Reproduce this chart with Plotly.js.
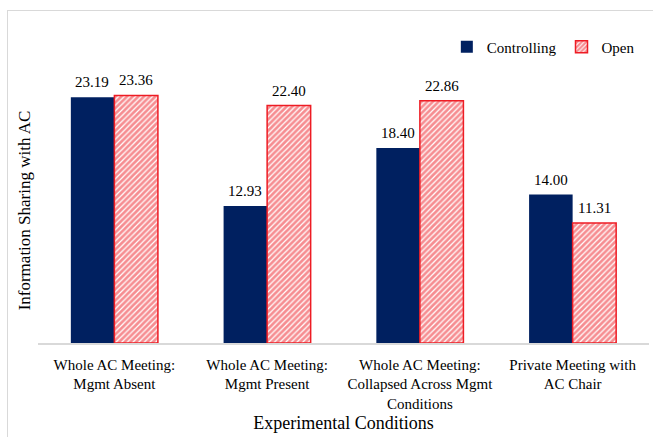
<!DOCTYPE html>
<html>
<head>
<meta charset="utf-8">
<script src="https://cdn.plot.ly/plotly-3.0.1.min.js"></script>
<style>
  html, body { margin: 0; padding: 0; background: #fff; }
  #wrap { position: relative; width: 653px; height: 437px; overflow: hidden; }
  #chart { position: absolute; left: 0; top: 0; width: 653px; height: 437px; }
  #frame { position: absolute; left: 7px; top: 10px; width: 700px; height: 500px;
           border-left: 1.5px solid #d9d9d9; border-top: 1.5px solid #d9d9d9; pointer-events: none; }
</style>
</head>
<body>
<div id="wrap">
  <div id="chart"></div>
  <div id="frame"></div>
</div>
<script>
const categories = [
  "Whole AC Meeting:<br>Mgmt Absent",
  "Whole AC Meeting:<br>Mgmt Present",
  "Whole AC Meeting:<br>Collapsed Across Mgmt<br>Conditions",
  "Private Meeting with<br>AC Chair"
];
const controlling = [23.19, 12.93, 18.40, 14.00];
const openVals = [23.36, 22.40, 22.86, 11.31];
const seriesNames = ["Controlling", "Open"];

const FONT = "'Liberation Serif', 'Times New Roman', serif";
const NAVY = "#002060";
const RED = "#ee1c24";

const traces = [
  {
    type: "bar",
    name: seriesNames[0],
    x: categories,
    y: controlling,
    marker: { color: NAVY, line: { color: NAVY, width: 0 } },
    hoverinfo: "none"
  },
  {
    type: "bar",
    name: seriesNames[1],
    x: categories,
    y: openVals,
    marker: {
      color: "#ffffff",
      line: { color: RED, width: 1.5 },
      pattern: { shape: "/", fgcolor: RED, bgcolor: "#ffffff", size: 4, solidity: 0.7, fillmode: "overlay" }
    },
    hoverinfo: "none"
  }
];

// value labels placed via data coordinates on the library's axes
const annotations = [];
const seriesVals = [controlling, openVals];
const offsets = [-22, 22];
seriesVals.forEach((vals, s) => {
  vals.forEach((v, i) => {
    annotations.push({
      x: categories[i], y: v, xref: "x", yref: "y",
      text: v.toFixed(2),
      showarrow: false,
      xshift: offsets[s], yshift: 5,
      yanchor: "bottom",
      font: { family: FONT, size: 15, color: "#000" }
    });
  });
});

const layout = {
  width: 653,
  height: 437,
  margin: { l: 38, r: 4, t: 78, b: 94 },
  paper_bgcolor: "#ffffff",
  plot_bgcolor: "#ffffff",
  font: { family: FONT, color: "#000" },
  barmode: "group",
  bargap: 0.43,
  bargroupgap: 0,
  showlegend: true,
  legend: {
    orientation: "h",
    x: 0.985, xanchor: "right",
    y: 1.117, yanchor: "middle",
    font: { family: FONT, size: 15, color: "#000" },
    itemwidth: 30,
    traceorder: "normal"
  },
  annotations: annotations,
  xaxis: {
    type: "category",
    showline: true,
    linecolor: "#d9d9d9",
    linewidth: 1.5,
    ticks: "",
    showgrid: false,
    zeroline: false,
    tickfont: { family: FONT, size: 15, color: "#000" },
    ticklabelstandoff: 7,
    title: { text: "Experimental Conditions", font: { family: FONT, size: 18, color: "#000" }, standoff: 6 },
    automargin: false
  },
  yaxis: {
    range: [0, 25],
    showline: false,
    showgrid: false,
    zeroline: false,
    showticklabels: false,
    ticks: "",
    title: { text: "Information Sharing with AC", font: { family: FONT, size: 17, color: "#000" }, standoff: 2 },
    automargin: false
  }
};

Plotly.newPlot("chart", traces, layout, { displayModeBar: false, staticPlot: true });
</script>
</body>
</html>
